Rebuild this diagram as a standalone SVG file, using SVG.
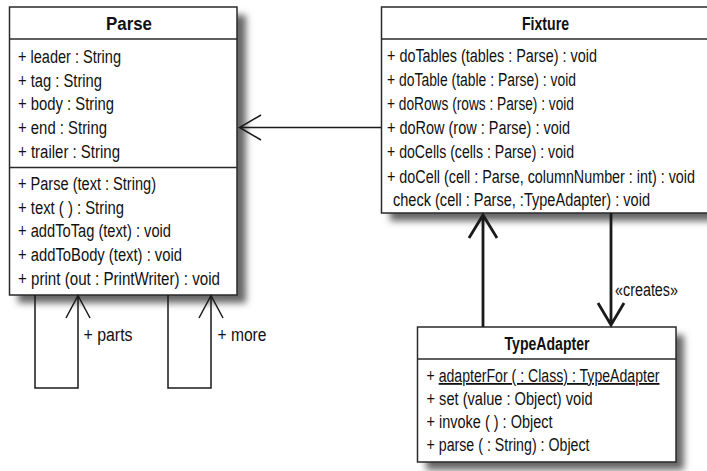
<svg xmlns="http://www.w3.org/2000/svg" width="707" height="471" viewBox="0 0 707 471">
<defs>
<filter id="sh" x="-10%" y="-10%" width="130%" height="130%">
<feGaussianBlur stdDeviation="3.5"/>
</filter>
<style>
text{font-family:"Liberation Sans",Arial,sans-serif;font-size:18px;fill:#111}
.t{font-weight:bold;text-anchor:middle}
.box{fill:#fff;stroke:#2a2a2a;stroke-width:1.5}
.div{stroke:#2a2a2a;stroke-width:1.5}
.shadow{fill:#666;filter:url(#sh)}
.ln{fill:none;stroke:#1a1a1a;stroke-width:1.5}
.thick{fill:none;stroke:#1a1a1a;stroke-width:2.8}
</style>
</defs>
<rect width="707" height="471" fill="#fff"/>
<g id="parse">
<rect class="shadow" x="18" y="15" width="228" height="288"/>
<rect class="box" x="9.5" y="7" width="227.5" height="288"/>
<line class="div" x1="9.5" y1="39" x2="237" y2="39"/>
<line class="div" x1="9.5" y1="167.5" x2="237" y2="167.5"/>
<text class="t" x="129" y="29.5" textLength="46" lengthAdjust="spacingAndGlyphs">Parse</text>
<text x="18" y="63" textLength="103" lengthAdjust="spacingAndGlyphs">+ leader : String</text>
<text x="18" y="86.5" textLength="84" lengthAdjust="spacingAndGlyphs">+ tag : String</text>
<text x="18" y="110" textLength="96" lengthAdjust="spacingAndGlyphs">+ body : String</text>
<text x="18" y="134" textLength="89" lengthAdjust="spacingAndGlyphs">+ end : String</text>
<text x="18" y="157.5" textLength="102" lengthAdjust="spacingAndGlyphs">+ trailer : String</text>
<text x="18" y="190" textLength="138" lengthAdjust="spacingAndGlyphs">+ Parse (text : String)</text>
<text x="18" y="214" textLength="106" lengthAdjust="spacingAndGlyphs">+ text ( ) : String</text>
<text x="18" y="237" textLength="153" lengthAdjust="spacingAndGlyphs">+ addToTag (text) : void</text>
<text x="18" y="260.5" textLength="164" lengthAdjust="spacingAndGlyphs">+ addToBody (text) : void</text>
<text x="18" y="284.5" textLength="202" lengthAdjust="spacingAndGlyphs">+ print (out : PrintWriter) : void</text>
</g>
<g id="fixture">
<rect class="shadow" x="390" y="15" width="330" height="206"/>
<rect class="box" x="381.5" y="7" width="330" height="206"/>
<line class="div" x1="381.5" y1="39" x2="711" y2="39"/>
<text class="t" x="545.5" y="29.5" textLength="47" lengthAdjust="spacingAndGlyphs">Fixture</text>
<text x="387" y="61.5" textLength="210" lengthAdjust="spacingAndGlyphs">+ doTables (tables : Parse) : void</text>
<text x="387" y="86" textLength="189" lengthAdjust="spacingAndGlyphs">+ doTable (table : Parse) : void</text>
<text x="387" y="109.5" textLength="187" lengthAdjust="spacingAndGlyphs">+ doRows (rows : Parse) : void</text>
<text x="387" y="133.5" textLength="183" lengthAdjust="spacingAndGlyphs">+ doRow (row : Parse) : void</text>
<text x="387" y="158" textLength="187" lengthAdjust="spacingAndGlyphs">+ doCells (cells : Parse) : void</text>
<text x="387" y="182.5" textLength="308" lengthAdjust="spacingAndGlyphs">+ doCell (cell : Parse, columnNumber : int) : void</text>
<text x="393" y="206" textLength="257" lengthAdjust="spacingAndGlyphs">check (cell : Parse, :TypeAdapter) : void</text>
</g>
<g id="typeadapter">
<rect class="shadow" x="426" y="335" width="258" height="135"/>
<rect class="box" x="417.5" y="327" width="258.5" height="135"/>
<line class="div" x1="417.5" y1="359" x2="676" y2="359"/>
<text class="t" x="547" y="349.5" textLength="85" lengthAdjust="spacingAndGlyphs">TypeAdapter</text>
<text x="426.5" y="382" textLength="233" lengthAdjust="spacingAndGlyphs">+ <tspan text-decoration="underline">adapterFor ( : Class) : TypeAdapter</tspan></text>
<text x="426.5" y="405" textLength="166" lengthAdjust="spacingAndGlyphs">+ set (value : Object) void</text>
<text x="426.5" y="428" textLength="126" lengthAdjust="spacingAndGlyphs">+ invoke ( ) : Object</text>
<text x="426.5" y="450.5" textLength="163" lengthAdjust="spacingAndGlyphs">+ parse ( : String) : Object</text>
</g>
<g id="connectors">
<path class="ln" d="M381 127.5H239.5M261 115L239.5 127.5L261 140"/>
<path class="ln" d="M35 295V388H78V295.5M66 318L78 295.5L90 318"/>
<path class="ln" d="M168 295V388H211V295.5M199 318L211 295.5L223 318"/>
<path class="thick" d="M483 327V215M469 238L483 215L497 238"/>
<path class="thick" d="M611 213V325M598 303L611 325L624 303"/>
<text x="83.5" y="341" textLength="49" lengthAdjust="spacingAndGlyphs">+ parts</text>
<text x="217.5" y="341" textLength="49" lengthAdjust="spacingAndGlyphs">+ more</text>
<text x="615" y="296" textLength="63" lengthAdjust="spacingAndGlyphs">«creates»</text>
</g>
</svg>
